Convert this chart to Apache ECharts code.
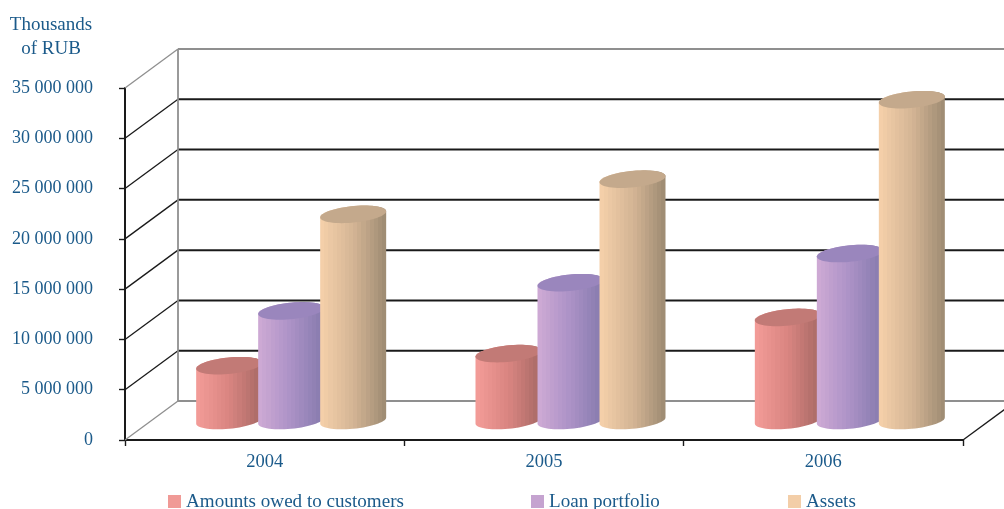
<!DOCTYPE html>
<html><head><meta charset="utf-8">
<style>html,body{margin:0;padding:0;background:#fff}#c{width:1004px;height:509px}</style>
<script src="https://cdn.jsdelivr.net/npm/echarts@6/dist/echarts.min.js"></script>
</head><body><div id="c"></div>
<script>
const categories = ['2004', '2005', '2006'];
const customers = [5450000, 6650000, 10250000];
const loans = [10900000, 13700000, 16600000];
const assets = [20500000, 24000000, 31900000];
const gridValues = [0, 5000000, 10000000, 15000000, 20000000, 25000000, 30000000, 35000000];

const INK = '#1b5a8a', FONT = '"Liberation Serif", serif';
const DX = 53, DY = 39;           // depth of the box
const R = 33, EDX = 11.5, EDY = 8.8; // cylinder ellipse
const STEP = 62 / 279.33;         // series spacing as share of band
const BANDS = 16;

const chart = echarts.init(document.getElementById('c'), null, {renderer: 'canvas'});

function wallItem(params, api) {
  const v = api.value(0);
  const last = v === 0 || v === 35000000;
  const p = api.coord([0, v]);
  const left = params.coordSys.x, right = params.coordSys.x + params.coordSys.width;
  const y = p[1];
  const col = last ? '#8f8f8f' : '#1a1a1a';
  const children = [
    {type: 'line', shape: {x1: left, y1: y, x2: left + DX, y2: y - DY}, style: {stroke: col, lineWidth: 1.3}},
    {type: 'line', shape: {x1: left + DX, y1: y - DY, x2: right + DX, y2: y - DY}, style: {stroke: col, lineWidth: last ? 1.8 : 2}}
  ];
  if (v === 0) {
    children.push({type: 'line', shape: {x1: right, y1: y, x2: right + DX, y2: y - DY}, style: {stroke: '#1a1a1a', lineWidth: 1.3}});
  }
  if (v === 35000000) {
    const y0 = api.coord([0, 0])[1];
    children.push({type: 'line', shape: {x1: left + DX, y1: y - DY, x2: left + DX, y2: y0 - DY}, style: {stroke: '#8f8f8f', lineWidth: 1.8}});
  }
  return {type: 'group', children};
}

function ringPoints(cx, cy, from, to, n) {
  const r = Math.sqrt(R * R - EDX * EDX), pts = [];
  for (let i = 0; i <= n; i++) {
    const t = from + (to - from) * i / n;
    pts.push([cx + r * Math.cos(t) + EDX * Math.sin(t), cy - EDY * Math.sin(t)]);
  }
  return pts;
}

function bandStops(colors) {
  const stops = [];
  for (let i = 0; i < BANDS; i++) {
    const c = echarts.color.lerp(i / (BANDS - 1), colors);
    stops.push({offset: i / BANDS, color: c}, {offset: (i + 1) / BANDS, color: c});
  }
  return stops;
}

function cylinder(shift, colors, topColor) {
  const stops = bandStops(colors);
  return function (params, api) {
    const cat = api.value(0), val = api.value(1);
    const band = api.size([1, 0])[0];
    const base = api.coord([cat, 0]), top = api.coord([cat, val]);
    const cx = base[0] + DX / 2 + shift * STEP * band;
    const by = base[1] - DY / 2, ty = top[1] - DY / 2;
    const t0 = Math.atan2(EDX, Math.sqrt(R * R - EDX * EDX));
    const lower = ringPoints(cx, by, t0 + Math.PI, t0 + 2 * Math.PI, 30);
    const upper = ringPoints(cx, ty, t0, t0 + Math.PI, 30);
    return {type: 'group', children: [
      {type: 'polygon', shape: {points: lower.concat(upper)},
       style: {fill: new echarts.graphic.LinearGradient(0, 0, 1, 0, stops)}},
      {type: 'polygon', shape: {points: ringPoints(cx, ty, 0, Math.PI * 2, 60)}, style: {fill: topColor}}
    ]};
  };
}

function cylSeries(name, values, shift, swatch, colors, topColor) {
  return {
    name, type: 'custom', coordinateSystem: 'cartesian2d',
    itemStyle: {color: swatch},
    encode: {x: 0, y: 1},
    data: values.map((v, i) => [i, v]),
    renderItem: cylinder(shift, colors, topColor),
    z: 3 + shift, clip: false
  };
}

const legendBase = n => ({
  data: [n], icon: 'rect', itemWidth: 13, itemHeight: 13, itemGap: 4, top: 492, padding: 0,
  textStyle: {color: INK, fontFamily: FONT, fontSize: 19.1}, selectedMode: false
});

chart.setOption({
  animation: false,
  backgroundColor: '#fff',
  title: {text: 'Thousands\nof RUB', left: 51, top: 13, textAlign: 'center', padding: 0,
    textStyle: {color: INK, fontFamily: FONT, fontSize: 19, fontWeight: 'normal', lineHeight: 24}},
  legend: [
    Object.assign(legendBase('Amounts owed to customers'), {left: 168}),
    Object.assign(legendBase('Loan portfolio'), {left: 531}),
    Object.assign(legendBase('Assets'), {left: 788})
  ],
  grid: {left: 125, right: 41, top: 88, bottom: 69, containLabel: false},
  xAxis: {
    type: 'category', data: categories, boundaryGap: true,
    axisLine: {lineStyle: {color: '#1a1a1a', width: 2}},
    axisTick: {show: true, length: 6, alignWithLabel: false, lineStyle: {color: '#1a1a1a', width: 1.4}},
    axisLabel: {color: INK, fontFamily: FONT, fontSize: 18.5, margin: 13}
  },
  yAxis: {
    type: 'value', min: 0, max: 35000000, interval: 5000000,
    axisLine: {show: true, lineStyle: {color: '#1a1a1a', width: 2}},
    axisTick: {show: true, length: 6, lineStyle: {color: '#1a1a1a', width: 1.4}},
    splitLine: {show: false},
    axisLabel: {color: INK, fontFamily: FONT, fontSize: 18, margin: 32, padding: [2, 0, 0, 0],
      formatter: v => String(v).replace(/\B(?=(\d{3})+$)/g, ' ')}
  },
  series: [
    {name: 'walls', type: 'custom', coordinateSystem: 'cartesian2d', encode: {y: 0},
     data: gridValues.map(v => [v]), renderItem: wallItem, z: 1, clip: false, silent: true},
    cylSeries('Amounts owed to customers', customers, -1, '#f09a96', ['#f29b97', '#d98581', '#a96a66'], '#c27a76'),
    cylSeries('Loan portfolio', loans, 0, '#c5a3d0', ['#cda9d4', '#ab91c6', '#877bae'], '#9a86bd'),
    cylSeries('Assets', assets, 1, '#f3cea8', ['#f4cfa9', '#d4b595', '#a08d74'], '#c4a98c')
  ]
});
</script></body></html>
